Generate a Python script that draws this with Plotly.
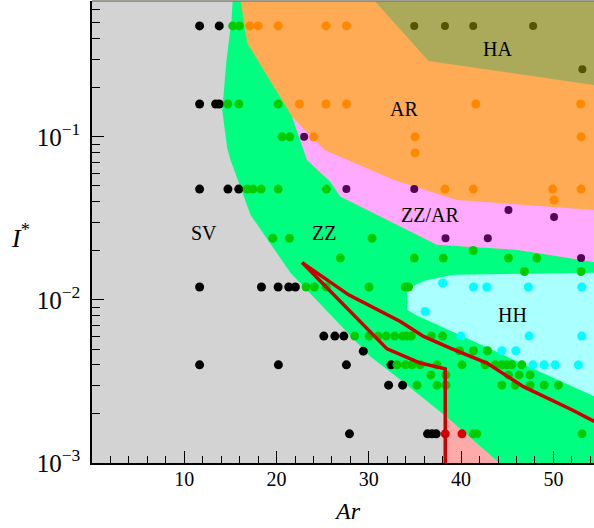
import math
import plotly.graph_objects as go

# ---------------- data ----------------
# region boundaries (Ar, I*)
zz_bx = [15.4, 15.26, 15.12, 14.58, 14.18, 14.11, 14.65, 15.01, 17.18, 21.5, 30.16, 33.41, 38.1, 44.12, 44.5, 56, 56]
zz_by = [1.0, 0.69, 0.52, 0.296, 0.168, 0.146, 0.0855, 0.0722, 0.0332, 0.0147, 0.0045, 0.00324, 0.00198, 0.001, 0.0009, 0.0009, 1.0]

ar_bx = [16.1, 16.09, 16.82, 21.69, 23.31, 25.83, 26.92, 37.38, 46.04, 54.4, 56, 56]
ar_by = [1.0, 0.69, 0.375, 0.133, 0.0722, 0.0531, 0.0431, 0.0218, 0.0203, 0.0171, 0.0168, 1.0]

ha_bx = [28.0, 36.47, 56, 56]
ha_by = [1.0, 0.292, 0.202, 1.0]

zzar_bx = [21.69, 24.57, 25.2, 32.68, 39.55, 54.4, 56, 56, 54.4, 46.04, 37.38, 26.92, 25.83, 23.31]
zzar_by = [0.133, 0.0914, 0.083, 0.0545, 0.041, 0.0356, 0.0354, 0.0168, 0.0171, 0.0203, 0.0218, 0.0431, 0.0531, 0.0722]

hh_bx = [34.13, 34.31, 36.11, 39.18, 56, 56, 35.03, 34.17]
hh_by = [0.01101, 0.0118, 0.01315, 0.01426, 0.0147, 0.00233, 0.0081, 0.00869]

sal_bx = [38.28, 44.12, 44.5, 38.28]
sal_by = [0.00194, 0.001, 0.0009, 0.0009]

red_x = [56, 54.4, 51.99, 46.75, 42.79, 38.82, 35.93, 33.41, 27.81, 22.77, 31.97, 35.57, 38.28, 38.28]
red_y = [0.00162, 0.0018, 0.00212, 0.00294, 0.0041, 0.00507, 0.00597, 0.00738, 0.01074, 0.01694, 0.00501, 0.0041, 0.00378, 0.0009]

# simulation points
sv_x = [11.66, 13.79, 11.66, 13.4, 13.79, 11.66, 14.73, 15.9, 11.66, 18.36, 20.17, 21.32, 22.04,
        25.12, 26.32, 27.29, 29.4, 11.66, 20.2, 27.57, 32.4, 32.14, 33.66, 27.9, 36.36, 36.84, 37.3]
sv_y = [0.479, 0.479, 0.159, 0.159, 0.159, 0.0478, 0.0478, 0.0478, 0.012, 0.012, 0.012, 0.012, 0.012,
        0.006, 0.006, 0.006, 0.00485, 0.004, 0.004, 0.004, 0.004, 0.003, 0.003, 0.00151, 0.00151, 0.00151, 0.00151]

zz_x = [15.25, 15.98,
        14.72, 15.91, 20.17,
        20.6, 21.43,
        16.81, 17.46, 18.33, 20.17, 25.4,
        19.59, 21.4, 30.35,
        41.31,
        26.91, 34.92, 38.06, 45.13, 48.2,
        46.86, 53.0,
        23.2, 24.1, 25.38, 30.02, 33.94, 34.3,
        28.46, 30.02, 31.03, 31.89, 32.8, 33.66, 34.13, 34.6, 36.77, 37.99,
        39.82, 41.34, 42.85,
        33.05, 33.95, 34.69, 35.57, 37.38, 40.09, 42.6, 43.69, 44.41, 44.95, 45.5, 46.58,
        36.72, 38.35, 45.13, 46.28, 47.47,
        35.22, 37.38, 38.35, 44.41, 45.85, 47.47, 49.0, 50.55,
        41.33, 41.7, 53.1]
zz_y = [0.479, 0.479,
        0.159, 0.159, 0.159,
        0.1, 0.1,
        0.0478, 0.0478, 0.0478, 0.0478, 0.0478,
        0.0239, 0.0239, 0.0239,
        0.0201,
        0.01805, 0.01805, 0.01805, 0.01805, 0.01805,
        0.01493, 0.01493,
        0.012, 0.012, 0.012, 0.012, 0.012, 0.012,
        0.006, 0.006, 0.006, 0.006, 0.006, 0.006, 0.006, 0.006, 0.006, 0.006,
        0.00488, 0.00488, 0.00488,
        0.004, 0.004, 0.004, 0.004, 0.004, 0.004, 0.004, 0.004, 0.004, 0.004, 0.004, 0.004,
        0.00347, 0.00347, 0.00347, 0.00347, 0.00347,
        0.003, 0.003, 0.003, 0.003, 0.003, 0.003, 0.003, 0.003,
        0.00151, 0.00151, 0.00151]

ar_x = [17.1, 18.0, 20.17, 25.36, 27.58,
        22.48, 25.36, 27.58, 41.6, 52.96,
        24.02, 35.0, 53.0,
        35.0,
        38.25, 41.31, 49.93, 53.0,
        50.07]
ar_y = [0.479, 0.479, 0.479, 0.479, 0.479,
        0.159, 0.159, 0.159, 0.159, 0.159,
        0.1, 0.1, 0.1,
        0.0797,
        0.0478, 0.0478, 0.0478, 0.0478,
        0.041]

ha_x = [34.92, 38.25, 41.31, 47.8, 53.14]
ha_y = [0.479, 0.479, 0.479, 0.479, 0.26]

zzar_x = [22.99, 27.57, 34.92, 45.13, 50.07, 38.31, 42.89, 53.0]
zzar_y = [0.1, 0.0478, 0.0478, 0.0356, 0.0323, 0.0239, 0.0239, 0.01805]

hh_x = [38.0, 41.34, 42.78, 47.29, 53.07, 36.1, 39.98, 47.37, 53.07, 44.41, 45.92, 47.77, 49.0, 50.19, 52.71]
hh_y = [0.0127, 0.012, 0.012, 0.012, 0.012, 0.00849, 0.006, 0.006, 0.006, 0.00488, 0.00488, 0.004, 0.004, 0.004, 0.004]

red_px = [38.28, 40.09]
red_py = [0.00151, 0.00151]

# region labels
lab_text = ["SV", "ZZ", "AR", "HA", "ZZ/AR", "HH"]
lab_x = [12.1, 25.1, 33.84, 43.94, 36.58, 45.6]
lab_y = [0.0258, 0.0257, 0.1475, 0.344, 0.0332, 0.0081]

x_ticks = [10, 20, 30, 40, 50]

# ---------------- figure ----------------
FONT = "Liberation Serif"
fig = go.Figure()

def region(xs, ys, color):
    fig.add_trace(go.Scatter(x=xs, y=ys, mode="lines", fill="toself", fillcolor=color,
                             line=dict(width=0, color=color), hoverinfo="skip", showlegend=False))

region(zz_bx, zz_by, "#00ff80")
region(ar_bx, ar_by, "#ffaa55")
region(ha_bx, ha_by, "#aaaa5a")
region(zzar_bx, zzar_by, "#ffaaff")
region(hh_bx, hh_by, "#aaffff")
region(sal_bx, sal_by, "#ffaaaa")

def pts(xs, ys, color, size=9):
    fig.add_trace(go.Scatter(x=xs, y=ys, mode="markers",
                             marker=dict(color=color, size=size, line=dict(width=0)),
                             showlegend=False, cliponaxis=True))

pts(sv_x, sv_y, "#000000")
pts(zz_x, zz_y, "#00cc00")
pts(ar_x, ar_y, "#ff8800")
pts(ha_x, ha_y, "#555500", 8)
pts(zzar_x, zzar_y, "#550055", 8)
pts(hh_x, hh_y, "#00ffff")
pts(red_px, red_py, "#dd0000")

fig.add_trace(go.Scatter(x=red_x, y=red_y, mode="lines",
                         line=dict(color="#cc0000", width=3.5), showlegend=False))

for t, x, y in zip(lab_text, lab_x, lab_y):
    fig.add_annotation(x=x, y=math.log10(y), xref="x", yref="y", text=t, showarrow=False,
                       xanchor="center", yanchor="middle",
                       font=dict(family=FONT, size=20, color="black"))

fig.add_annotation(x=-0.143, y=0.491, xref="paper", yref="paper", text="<i>I</i><sup>*</sup>",
                   showarrow=False, xanchor="center", yanchor="middle",
                   font=dict(family=FONT, size=26, color="black"))
fig.add_annotation(x=0.508, y=-0.104, xref="paper", yref="paper", text="<i>Ar</i>",
                   showarrow=False, xanchor="center", yanchor="middle",
                   font=dict(family=FONT, size=24, color="black"))

fig.add_shape(type="line", xref="paper", yref="paper", x0=0, x1=1, y0=1, y1=1,
              line=dict(color="#7f7f70", width=1.5))

fig.update_xaxes(range=[0, 54.4], showgrid=False, zeroline=False, showline=True, linecolor="black",
                 linewidth=1.5, ticks="inside", ticklen=12, tickwidth=1.3, tickcolor="black",
                 tickvals=x_ticks, tickfont=dict(family=FONT, size=20, color="black"),
                 ticklabelstandoff=-3,
                 minor=dict(dtick=2, tick0=0, ticks="inside", ticklen=7, tickwidth=1.3, tickcolor="black"))
fig.update_yaxes(type="log", range=[-3, -0.167], showgrid=False, zeroline=False, showline=True,
                 linecolor="black", linewidth=1.5, ticks="inside", ticklen=12, tickwidth=1.3,
                 tickcolor="black", dtick=1, exponentformat="power", ticklabelstandoff=6,
                 tickfont=dict(family=FONT, size=20, color="black"),
                 minor=dict(dtick="D1", ticks="inside", ticklen=8, tickwidth=1.3, tickcolor="black"))

fig.update_layout(width=594, height=528, margin=dict(l=92, r=0, t=1, b=65),
                  plot_bgcolor="#d3d3d3", paper_bgcolor="white", showlegend=False)

fig.write_html("out.html", post_script="document.body.style.margin='0px';",
               config={"displayModeBar": False})
